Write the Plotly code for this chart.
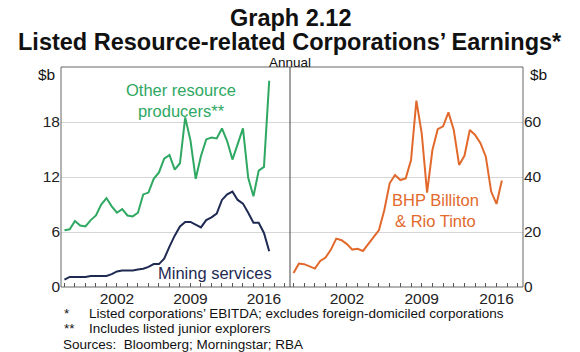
import plotly.graph_objects as go

# Half-yearly observations, 1997 H1 .. 2016 H2
years = [1997 + 0.5 * i for i in range(40)]

other_resource = [6.2, 6.3, 7.2, 6.7, 6.6, 7.3, 7.8, 9.0, 9.7, 8.8,
                  8.1, 8.5, 7.8, 7.7, 8.1, 10.1, 10.3, 11.8, 12.5, 14.0,
                  14.4, 12.8, 13.5, 18.5, 16.0, 11.8, 14.3, 16.1, 16.3, 16.2,
                  17.3, 15.9, 13.9, 15.6, 17.3, 11.9, 9.9, 12.7, 13.1, 22.5]

mining_services = [0.8, 1.1, 1.1, 1.1, 1.1, 1.2, 1.2, 1.2, 1.2, 1.4,
                   1.7, 1.8, 1.8, 1.8, 1.9, 2.0, 2.2, 2.5, 2.5, 3.1,
                   4.4, 5.6, 6.6, 7.1, 7.1, 6.8, 6.5, 7.3, 7.6, 8.0,
                   9.5, 10.1, 10.4, 9.5, 9.1, 8.1, 7.0, 7.0, 5.9, 3.9]

bhp_rio = [5.1, 8.5, 8.3, 7.5, 6.7, 9.5, 10.7, 13.6, 17.6, 17.0,
           15.6, 13.6, 13.9, 13.1, 15.6, 18.2, 20.7, 28.0, 37.7, 40.7,
           38.9, 39.5, 46.2, 67.8, 55.9, 34.3, 49.8, 57.4, 58.4, 63.5,
           57.1, 44.4, 47.7, 57.1, 55.3, 52.3, 47.4, 34.7, 30.2, 38.7]

x_tick_labels = [2002, 2009, 2016]
left_ticks = [0, 6, 12, 18]
right_ticks = [0, 20, 40, 60]

GREEN = "#2ea862"
NAVY = "#1e2a52"
ORANGE = "#e2692c"
FONT = "Liberation Sans"

# Plot-area geometry (pixels)
L, R, T, B = 61, 523, 67, 287
W, H = 580, 352
DIV = 290
pw, ph = R - L, B - T


def px(xp):
    return (xp - L) / pw


def py(yp):
    return (B - yp) / ph


xr = [1996.67, 2018.48]
split = px(DIV)

fig = go.Figure()
fig.add_trace(go.Scatter(x=years, y=other_resource, mode="lines",
                         line=dict(color=GREEN, width=2), xaxis="x", yaxis="y"))
fig.add_trace(go.Scatter(x=years, y=mining_services, mode="lines",
                         line=dict(color=NAVY, width=2), xaxis="x", yaxis="y"))
fig.add_trace(go.Scatter(x=years, y=bhp_rio, mode="lines",
                         line=dict(color=ORANGE, width=2), xaxis="x2", yaxis="y2"))

xcommon = dict(range=xr, tickmode="array", tickvals=x_tick_labels,
               ticktext=[str(v) for v in x_tick_labels], ticks="", showgrid=False,
               zeroline=False, showline=False,
               tickfont=dict(family=FONT, size=15.5, color="#222"),
               minor=dict(tickmode="array", tickvals=list(range(1997, 2019)),
                          ticks="inside", ticklen=4, tickcolor="#555", showgrid=False))

fig.update_layout(
    width=W, height=H,
    margin=dict(l=L, r=W - R, t=T, b=H - B),
    paper_bgcolor="white", plot_bgcolor="white",
    showlegend=False,
    xaxis=dict(domain=[0, split], anchor="y", **xcommon),
    xaxis2=dict(domain=[split, 1], anchor="y2", **xcommon),
    yaxis=dict(range=[0, 24], tickvals=left_ticks, domain=[0, 1], anchor="x",
               showgrid=True, gridcolor="#d6d6d6", gridwidth=1, zeroline=False,
               showline=False, ticks="",
               tickfont=dict(family=FONT, size=15.5, color="#222")),
    yaxis2=dict(range=[0, 80], tickvals=right_ticks, domain=[0, 1], anchor="x2",
                side="right", showgrid=True, gridcolor="#d6d6d6", gridwidth=1,
                zeroline=False, showline=False, ticks="",
                tickfont=dict(family=FONT, size=15.5, color="#222")),
)

# Frame and panel divider
fig.add_shape(type="rect", xref="paper", yref="paper", x0=0, x1=1, y0=0, y1=1,
              line=dict(color="#666", width=1))
fig.add_shape(type="line", xref="paper", yref="paper", x0=split, x1=split, y0=0, y1=1,
              line=dict(color="#444", width=1))

ann = []


def txt(text, x, y, size, color="#111", bold=False, xanchor="center", xref="paper", yref="paper"):
    if bold:
        text = "<b>" + text + "</b>"
    ann.append(dict(text=text, x=x, y=y, xref=xref, yref=yref, showarrow=False,
                    xanchor=xanchor, yanchor="middle",
                    font=dict(family=FONT, size=size, color=color)))


txt("Graph 2.12", px(290), py(18), 23.5, bold=True)
txt("Listed Resource-related Corporations’ Earnings*", px(290), py(42), 23.5, bold=True)
txt("Annual", px(290), py(62), 13.5)
txt("$b", px(46), py(74), 15.5, xanchor="center")
txt("$b", px(538), py(74), 15.5, xanchor="center")

txt("Other resource<br>producers**", 2008.1, 20.3, 16.5, color=GREEN, xref="x", yref="y")
txt("Mining services", 2011.3, 1.5, 16.5, color=NAVY, xref="x", yref="y")
txt("BHP Billiton<br>& Rio Tinto", 2010.3, 27.9, 16.5, color=ORANGE, xref="x2", yref="y2")

txt("*", px(62), py(313), 13.5, xanchor="left")
txt("Listed corporations’ EBITDA; excludes foreign-domiciled corporations", px(87), py(313), 13.5, xanchor="left")
txt("**", px(62), py(328), 13.5, xanchor="left")
txt("Includes listed junior explorers", px(87), py(328), 13.5, xanchor="left")
txt("Sources:&nbsp;&nbsp;Bloomberg; Morningstar; RBA", px(61), py(344), 13.5, xanchor="left")

fig.update_layout(annotations=ann)
fig.write_html("out.html")
